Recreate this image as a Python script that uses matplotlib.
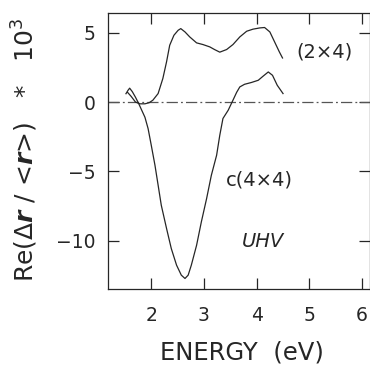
import matplotlib
matplotlib.use("Agg")
import matplotlib.pyplot as plt

# (2x4) reconstruction spectrum
e_2x4 = [1.55, 1.62, 1.70, 1.78, 1.88, 1.96, 2.03, 2.13, 2.22, 2.29, 2.35, 2.43,
         2.51, 2.56, 2.64, 2.73, 2.86, 2.98, 3.11, 3.20, 3.30, 3.43, 3.55, 3.68,
         3.81, 3.93, 4.06, 4.15, 4.25, 4.34, 4.43, 4.49]
re_2x4 = [0.70, 0.40, 0.00, -0.13, -0.13, -0.05, 0.13, 0.61, 1.70, 2.90, 4.10, 4.82,
          5.18, 5.30, 5.06, 4.70, 4.27, 4.15, 3.98, 3.79, 3.60, 3.79, 4.15, 4.70,
          5.11, 5.26, 5.35, 5.38, 5.06, 4.34, 3.62, 3.18]

# c(4x4) reconstruction spectrum
e_c4x4 = [1.52, 1.56, 1.59, 1.64, 1.70, 1.76, 1.82, 1.88, 1.94, 2.00, 2.07, 2.13,
          2.19, 2.29, 2.38, 2.48, 2.57, 2.64, 2.70, 2.76, 2.86, 2.95, 3.05, 3.14,
          3.24, 3.30, 3.36, 3.46, 3.55, 3.62, 3.68, 3.77, 3.90, 4.03, 4.12, 4.22,
          4.30, 4.39, 4.50]
re_c4x4 = [0.60, 0.85, 1.00, 0.75, 0.35, -0.10, -0.60, -1.10, -1.92, -3.12, -4.56, -6.00,
           -7.45, -9.13, -10.58, -11.78, -12.50, -12.74, -12.50, -11.78, -10.34, -8.66, -6.97, -5.29,
           -3.84, -2.40, -1.19, -0.59, 0.13, 0.70, 1.09, 1.28, 1.41, 1.57, 1.86, 2.17,
           1.93, 1.21, 0.61]

x_ticks = [2, 3, 4, 5, 6]
y_ticks = [5, 0, -5, -10]

ink = "#262626"
plt.rcParams["font.family"] = ["DejaVu Sans"]

fig = plt.figure(figsize=(3.70, 3.73), dpi=100)
ax = fig.add_axes([0.292, 0.2252, 0.708, 0.7408])

ax.axhline(0, color="#555555", lw=0.9, ls=(0, (9, 2.5, 1.5, 2.5)))
ax.plot(e_2x4, re_2x4, color=ink, lw=0.9)
ax.plot(e_c4x4, re_c4x4, color=ink, lw=0.9)

ax.set_xlim(1.18, 6.15)
ax.set_ylim(-13.5, 6.45)
ax.set_xticks(x_ticks)
ax.set_yticks(y_ticks)
ax.set_yticklabels(["5", "0", "\u22125", "\u221210"])
ax.tick_params(direction="in", length=8, width=0.9, top=True, right=True,
               labelsize=13.5, colors=ink, pad=9)
ax.tick_params(axis="x", pad=12)
for s in ax.spines.values():
    s.set_linewidth(0.9)
    s.set_color(ink)

ax.text(5.29, 3.6, "(2\u00d74)", fontsize=14, color=ink, ha="center", va="center")
ax.text(4.06, -5.65, "c(4\u00d74)", fontsize=14, color=ink, ha="center", va="center")
ax.text(4.12, -10.1, "UHV", fontsize=14, color=ink, ha="center", va="center",
        style="italic")

fig.text(0.653, 0.054, "ENERGY  (eV)", fontsize=17.5, color=ink,
         ha="center", va="center")
fig.text(0.068, 0.598, r"Re(Δ$\boldsymbol{r}$ / <$\boldsymbol{r}$>)   $*$   10$^3$",
         rotation=90, fontsize=18, color=ink, ha="center", va="center")

fig.savefig("out.png", dpi=100)
